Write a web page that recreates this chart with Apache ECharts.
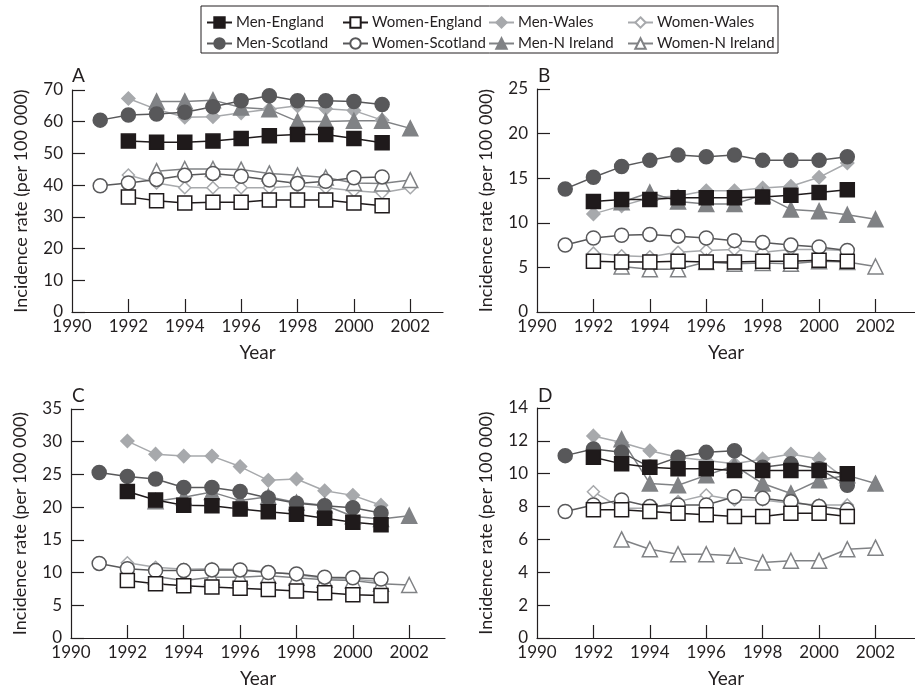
<!DOCTYPE html>
<html>
<head>
<meta charset="utf-8">
<script src="https://cdn.jsdelivr.net/npm/echarts@6/dist/echarts.min.js"></script>
<style>html,body{margin:0;padding:0;background:#fff}#c{width:915px;height:689px}</style>
</head>
<body>
<div id="c"></div>
<script>
// ---- data ----
var years = [1991,1992,1993,1994,1995,1996,1997,1998,1999,2000,2001,2002];
var seriesNames = ['Men-England','Women-England','Men-Wales','Women-Wales','Men-Scotland','Women-Scotland','Men-N Ireland','Women-N Ireland'];
var panelLetters = ['A','B','C','D'];
var yMax = [70, 25, 35, 14];
var yInterval = [10, 5, 5, 2];
var xLabels = [1990,1992,1994,1996,1998,2000,2002];
var xTicks = [1992,1994,1996,1998,2000,2002];

// Panel A
var A_menEngland    = [null,53.9,53.5,53.5,53.9,54.7,55.6,56.0,56.0,54.7,53.4,null];
var A_womenEngland  = [null,36.3,35.1,34.4,34.6,34.6,35.3,35.3,35.3,34.4,33.5,null];
var A_menScotland   = [60.5,62.1,62.4,63.0,64.7,66.6,68.2,66.6,66.6,66.4,65.4,null];
var A_womenScotland = [39.8,40.7,41.8,43.1,43.7,42.8,41.6,40.5,41.2,42.3,42.6,null];
var A_menWales      = [null,67.3,63.9,61.4,61.6,62.8,63.9,65.0,64.1,63.5,60.5,null];
var A_womenWales    = [null,43.2,40.7,39.2,39.2,39.2,39.2,39.7,39.2,38.2,37.6,39.2];
var A_menNI         = [null,null,66.4,66.4,66.8,64.5,63.9,60.1,60.1,60.3,60.3,57.9];
var A_womenNI       = [null,null,44.4,45.1,45.1,44.9,43.7,43.1,42.4,40.7,40.5,41.6];
// Panel B
var B_menEngland    = [null,12.4,12.6,12.6,12.8,12.8,12.8,12.9,13.1,13.4,13.7,null];
var B_womenEngland  = [null,5.7,5.6,5.6,5.7,5.6,5.6,5.7,5.7,5.8,5.7,null];
var B_menScotland   = [13.8,15.1,16.3,17.0,17.6,17.4,17.6,17.0,17.0,17.0,17.4,null];
var B_womenScotland = [7.5,8.3,8.6,8.7,8.5,8.3,8.0,7.8,7.5,7.3,6.9,null];
var B_menWales      = [null,11.0,11.9,12.8,13.0,13.6,13.6,13.9,14.1,15.1,16.7,null];
var B_womenWales    = [null,6.6,6.3,6.2,6.7,6.9,7.0,6.7,7.0,7.0,6.9,null];
var B_menNI         = [null,null,12.3,13.4,12.4,12.1,12.1,13.1,11.5,11.3,10.9,10.4];
var B_womenNI       = [null,null,5.1,4.8,4.8,5.6,5.4,5.5,5.4,5.7,5.6,5.1];
// Panel C
var C_menEngland    = [null,22.4,21.1,20.3,20.2,19.7,19.3,18.9,18.3,17.7,17.3,null];
var C_womenEngland  = [null,8.8,8.3,8.0,7.8,7.6,7.4,7.2,6.9,6.6,6.5,null];
var C_menScotland   = [25.3,24.7,24.3,23.0,23.0,22.4,21.4,20.6,20.2,19.9,19.1,null];
var C_womenScotland = [11.4,10.6,10.3,10.3,10.4,10.4,10.0,9.8,9.3,9.2,9.0,null];
var C_menWales      = [null,30.1,28.1,27.8,27.8,26.2,24.1,24.3,22.5,21.8,20.3,null];
var C_womenWales    = [null,11.5,10.8,10.5,10.6,10.5,10.1,9.7,9.1,9.0,8.6,null];
var C_menNI         = [null,null,20.9,21.5,22.3,21.0,21.6,20.7,20.3,18.6,18.2,18.7];
var C_womenNI       = [null,null,9.4,8.8,9.3,9.3,9.5,9.2,8.9,8.8,8.3,8.1];
// Panel D
var D_menEngland    = [null,11.0,10.6,10.4,10.3,10.3,10.2,10.2,10.2,10.2,10.0,null];
var D_womenEngland  = [null,7.8,7.8,7.7,7.6,7.5,7.4,7.4,7.6,7.6,7.4,null];
var D_menScotland   = [11.1,11.5,11.3,10.4,11.0,11.3,11.4,10.4,10.6,10.3,9.3,null];
var D_womenScotland = [7.7,8.1,8.4,8.0,8.1,8.1,8.6,8.5,8.3,8.0,7.8,null];
var D_menWales      = [null,12.3,11.9,11.4,11.0,10.8,10.6,10.9,11.2,10.9,9.6,null];
var D_womenWales    = [null,8.9,7.9,7.9,8.3,8.7,8.4,8.4,8.2,8.1,8.1,null];
var D_menNI         = [null,null,12.1,9.4,9.3,9.9,10.5,9.4,8.8,9.6,9.9,9.4];
var D_womenNI       = [null,null,6.0,5.4,5.1,5.1,5.0,4.6,4.7,4.7,5.4,5.5];

var panels = [
  {'Men-England':A_menEngland,'Women-England':A_womenEngland,'Men-Scotland':A_menScotland,'Women-Scotland':A_womenScotland,'Men-Wales':A_menWales,'Women-Wales':A_womenWales,'Men-N Ireland':A_menNI,'Women-N Ireland':A_womenNI},
  {'Men-England':B_menEngland,'Women-England':B_womenEngland,'Men-Scotland':B_menScotland,'Women-Scotland':B_womenScotland,'Men-Wales':B_menWales,'Women-Wales':B_womenWales,'Men-N Ireland':B_menNI,'Women-N Ireland':B_womenNI},
  {'Men-England':C_menEngland,'Women-England':C_womenEngland,'Men-Scotland':C_menScotland,'Women-Scotland':C_womenScotland,'Men-Wales':C_menWales,'Women-Wales':C_womenWales,'Men-N Ireland':C_menNI,'Women-N Ireland':C_womenNI},
  {'Men-England':D_menEngland,'Women-England':D_womenEngland,'Men-Scotland':D_menScotland,'Women-Scotland':D_womenScotland,'Men-Wales':D_menWales,'Women-Wales':D_womenWales,'Men-N Ireland':D_menNI,'Women-N Ireland':D_womenNI}
];

// ---- styles ----
var FONT = 'Lato, "DejaVu Sans", sans-serif';
var TXT = '#231f20';
var styles = {
  'Men-England':    {symbol:'rect', size:14, color:'#1f1a1b', fill:'#1f1a1b'},
  'Women-England':  {symbol:'rect', size:14, color:'#1f1a1b', fill:'#ffffff'},
  'Men-Scotland':   {symbol:'circle', size:14, color:'#58585a', fill:'#58585a'},
  'Women-Scotland': {symbol:'circle', size:14, color:'#58585a', fill:'#ffffff'},
  'Men-Wales':      {symbol:'diamond', size:13, color:'#a7a9ac', fill:'#a7a9ac'},
  'Women-Wales':    {symbol:'diamond', size:12, color:'#a7a9ac', fill:'#ffffff'},
  'Men-N Ireland':  {symbol:'triangle', size:15, color:'#808285', fill:'#808285'},
  'Women-N Ireland':{symbol:'triangle', size:15, color:'#808285', fill:'#ffffff'}
};
var drawOrder = ['Women-Wales','Men-Wales','Women-N Ireland','Men-N Ireland','Women-Scotland','Men-Scotland','Women-England','Men-England'];

var grids = [
  {left:72, top:90, width:371, height:222},
  {left:537, top:89, width:378, height:223},
  {left:71, top:409, width:374, height:229},
  {left:537, top:408, width:378, height:230}
];
var xMaxes = [2003.16, 2003.4, 2003.27, 2003.4];

var xAxes = [], yAxes = [], series = [];
grids.forEach(function(g, i){
  xAxes.push({
    type:'value', gridIndex:i, min:1990, max:xMaxes[i], interval:2,
    name:'Year', nameLocation:'middle', nameGap:31,
    nameTextStyle:{fontFamily:FONT, fontSize:19, color:TXT},
    axisLine:{show:true, lineStyle:{color:'#231f20', width:1.2}},
    axisTick:{show:true, inside:true, length:13, customValues:xTicks, lineStyle:{color:'#231f20', width:1.2}},
    axisLabel:{customValues:xLabels, margin:6, fontFamily:FONT, fontSize:17, color:TXT,
      formatter:function(v){ return String(Math.round(v)); }},
    splitLine:{show:false}
  });
  yAxes.push({
    type:'value', gridIndex:i, min:0, max:yMax[i], interval:yInterval[i],
    name:'Incidence rate (per 100 000)', nameLocation:'middle', nameGap:42,
    nameTextStyle:{fontFamily:FONT, fontSize:18, color:TXT},
    axisLine:{show:true, lineStyle:{color:'#231f20', width:1.2}},
    axisTick:{show:true, inside:true, length:13, lineStyle:{color:'#231f20', width:1.2}},
    axisLabel:{margin:9, fontFamily:FONT, fontSize:17, color:TXT},
    splitLine:{show:false}
  });
  drawOrder.forEach(function(name){
    var s = styles[name];
    var vals = panels[i][name];
    var data = [];
    years.forEach(function(y, k){ if (vals[k] !== null) data.push([y, vals[k]]); });
    series.push({
      type:'line', name:name, xAxisIndex:i, yAxisIndex:i, data:data,
      symbol:s.symbol, symbolSize:s.size, showAllSymbol:true,
      lineStyle:{color:s.color, width:1.5},
      itemStyle:{color:s.fill, borderColor:s.color, borderWidth:1.5},
      animation:false, silent:true
    });
  });
});

function legendCol(left, names){
  return {
    orient:'vertical', left:left, top:15, padding:0, itemGap:6,
    itemWidth:25, itemHeight:13, data:names, selectedMode:false,
    textStyle:{fontFamily:FONT, fontSize:15, color:TXT, padding:[0,0,0,-1]}
  };
}

var letterPos = [[72,66],[538,66],[72,386],[538,386]];
var graphics = [{
  type:'rect', shape:{x:201, y:6, width:577, height:47},
  style:{fill:'none', stroke:'#231f20', lineWidth:1}
}];
panelLetters.forEach(function(L, i){
  graphics.push({type:'text', x:letterPos[i][0], y:letterPos[i][1],
    style:{text:L, fontFamily:FONT, fontSize:19, fill:TXT}});
});

var chart = echarts.init(document.getElementById('c'), null, {renderer:'canvas'});
chart.setOption({
  backgroundColor:'#fff',
  animation:false,
  grid:grids,
  xAxis:xAxes,
  yAxis:yAxes,
  legend:[
    legendCol(206, ['Men-England','Men-Scotland']),
    legendCol(342, ['Women-England','Women-Scotland']),
    legendCol(488, ['Men-Wales','Men-N Ireland']),
    legendCol(627, ['Women-Wales','Women-N Ireland'])
  ],
  graphic:graphics,
  series:series
});
</script>
</body>
</html>
